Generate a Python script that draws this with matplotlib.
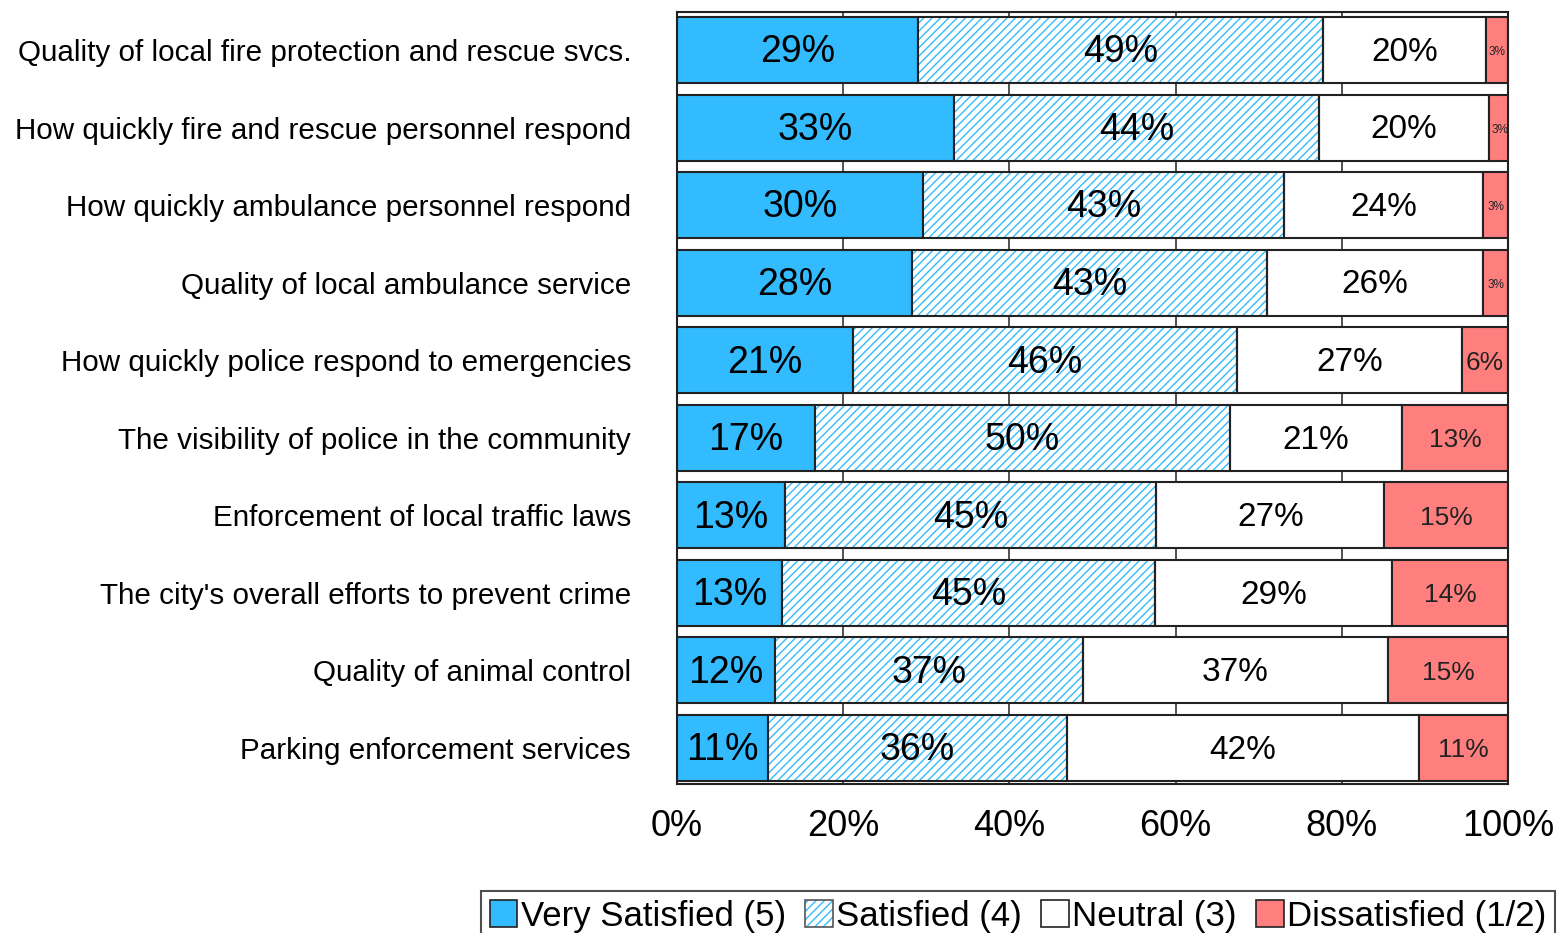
import matplotlib
matplotlib.use("Agg")
import matplotlib.pyplot as plt
from matplotlib.patches import Patch
from matplotlib.legend_handler import HandlerTuple

plt.rcParams['font.family'] = ['Liberation Sans', 'DejaVu Sans']
plt.rcParams['hatch.linewidth'] = 1.0

categories = [
    "Quality of local fire protection and rescue svcs.",
    "How quickly fire and rescue personnel respond",
    "How quickly ambulance personnel respond",
    "Quality of local ambulance service",
    "How quickly police respond to emergencies",
    "The visibility of police in the community",
    "Enforcement of local traffic laws",
    "The city's overall efforts to prevent crime",
    "Quality of animal control",
    "Parking enforcement services",
]
very_satisfied = [29.0, 33.3, 29.6, 28.3, 21.2, 16.6, 13.0, 12.6, 11.8, 11.0]
satisfied = [48.7, 44.0, 43.4, 42.7, 46.2, 49.9, 44.7, 44.9, 37.1, 35.9]
neutral = [19.7, 20.4, 24.0, 26.0, 27.1, 20.8, 27.4, 28.6, 36.6, 42.4]
dissatisfied = [2.6, 2.6, 3.0, 3.0, 5.5, 12.7, 14.9, 13.9, 14.6, 10.7]
series_names = ["Very Satisfied (5)", "Satisfied (4)", "Neutral (3)", "Dissatisfied (1/2)"]
xticks = [0, 20, 40, 60, 80, 100]
xtick_labels = ["0%", "20%", "40%", "60%", "80%", "100%"]

BLUE = "#33BBFF"
RED = "#FF7F7F"
EDGE = "#222222"

fig = plt.figure(figsize=(15.59, 9.33), dpi=100)
ax = fig.add_axes([677/1559, 1-784/933, (1508-677)/1559, (784-12)/933])

y = list(range(len(categories)))
h = 0.85
left = [0.0]*len(y)

ax.barh(y, very_satisfied, left=left, height=h, color=BLUE, edgecolor=EDGE, linewidth=1.5, zorder=3)
left1 = [l + v for l, v in zip(left, very_satisfied)]
ax.barh(y, satisfied, left=left1, height=h, color="white", edgecolor=BLUE, hatch="////", linewidth=0, zorder=3)
ax.barh(y, satisfied, left=left1, height=h, fill=False, edgecolor=EDGE, linewidth=1.5, zorder=4)
left2 = [l + v for l, v in zip(left1, satisfied)]
ax.barh(y, neutral, left=left2, height=h, color="white", edgecolor=EDGE, linewidth=1.5, zorder=3)
left3 = [l + v for l, v in zip(left2, neutral)]
ax.barh(y, dissatisfied, left=left3, height=h, color=RED, edgecolor=EDGE, linewidth=1.5, zorder=3)

for i in y:
    yc = i + 0.03
    ax.text(left[i] + very_satisfied[i]/2, yc, f"{round(very_satisfied[i])}%", ha="center", va="center", fontsize=27, zorder=5)
    ax.text(left1[i] + satisfied[i]/2, yc, f"{round(satisfied[i])}%", ha="center", va="center", fontsize=27, zorder=5)
    ax.text(left2[i] + neutral[i]/2, yc, f"{round(neutral[i])}%", ha="center", va="center", fontsize=24, zorder=5)
    d = dissatisfied[i]
    fs = 8.5 if d < 4 else 19
    ax.text(left3[i] + d/2, yc, f"{round(d)}%", ha="center", va="center", fontsize=fs, zorder=5, color="#222222")

ax.set_xlim(0, 100)
ax.set_ylim(9.464, -0.49)
ax.set_yticks(y)
ax.set_yticklabels(categories, fontsize=21.3)
ax.set_xticks(xticks)
ax.set_xticklabels(xtick_labels, fontsize=26)
ax.tick_params(axis="both", length=0)
ax.tick_params(axis="y", pad=33)
ax.tick_params(axis="x", pad=18)
ax.xaxis.grid(True, color="#333333", linewidth=1.2, zorder=0)
ax.set_axisbelow(True)
for s in ax.spines.values():
    s.set_linewidth(1.5)
    s.set_color(EDGE)
    s.set_zorder(6)

handles = [
    Patch(facecolor=BLUE, edgecolor=EDGE, linewidth=1.2),
    (Patch(facecolor="white", edgecolor=BLUE, hatch="////", linewidth=0),
     Patch(fill=False, edgecolor="#555555", linewidth=1.2)),
    Patch(facecolor="white", edgecolor=EDGE, linewidth=1.2),
    Patch(facecolor=RED, edgecolor=EDGE, linewidth=1.2),
]
leg = fig.legend(handles, series_names, loc="upper left", bbox_to_anchor=(481/1559, 1-891/933),
                 ncol=4, fontsize=25, frameon=True, fancybox=False, edgecolor=EDGE,
                 handlelength=0.8, handleheight=0.8, handletextpad=0.1, columnspacing=0.55,
                 borderpad=0.25, borderaxespad=0,
                 handler_map={tuple: HandlerTuple(ndivide=1, pad=0)})
leg.get_frame().set_linewidth(1.5)

fig.savefig("out.png", dpi=100)
